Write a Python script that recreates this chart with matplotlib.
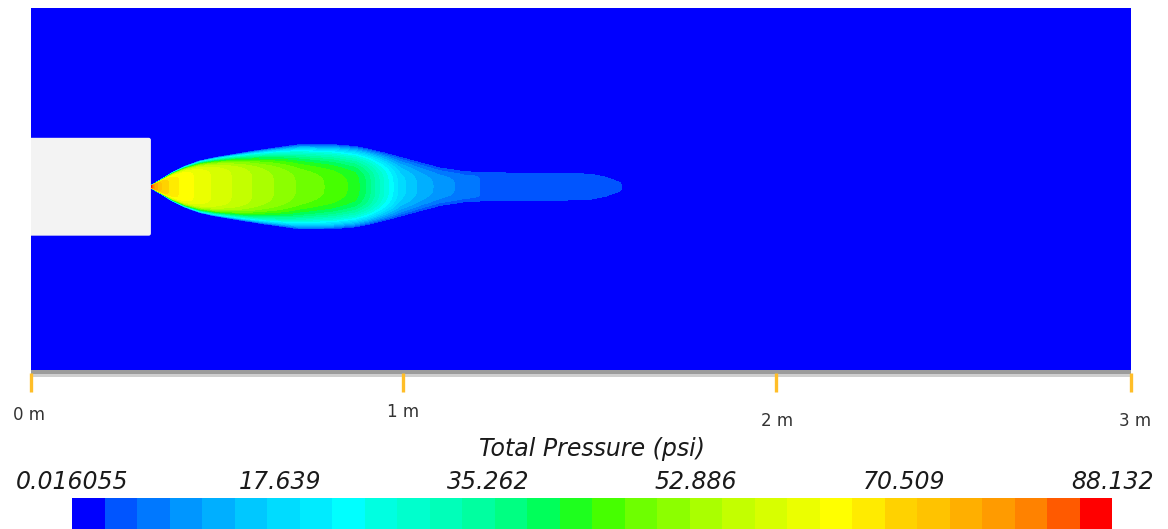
import numpy as np
import matplotlib
matplotlib.use("Agg")
import matplotlib.pyplot as plt
from matplotlib.patches import FancyBboxPatch

# ---------------- data ----------------
# plume stations along the axis (m), centreline total pressure (psi),
# outer half-width (m) and edge sharpness exponent
station_x = [0.327, 0.335, 0.352, 0.387, 0.420, 0.461, 0.502, 0.543, 0.625, 0.734,
             0.824, 0.884, 0.916, 0.965, 1.006, 1.061, 1.115, 1.184, 1.238, 1.334,
             1.443, 1.525, 1.565, 1.606, 1.620]
centre_p = [88, 78, 72, 67, 65, 62, 60, 58, 54, 49,
            46, 43, 38, 27, 18, 13, 10, 7, 5, 4.4,
            4.3, 4.2, 4.0, 3.6, 0]
half_width = [0.003, 0.008, 0.018, 0.040, 0.056, 0.071, 0.080, 0.087, 0.101, 0.117,
              0.117, 0.112, 0.106, 0.095, 0.085, 0.071, 0.057, 0.046, 0.042, 0.041,
              0.041, 0.038, 0.030, 0.014, 0.003]
edge_exp = [10, 10, 10, 10, 10, 9, 8, 7, 5, 3.5,
            3.2, 3, 3, 3, 3, 3, 3, 4, 8, 10,
            10, 10, 10, 10, 10]

domain_len = 3.0
domain_h = 0.989
axis_y = 0.5
body_len = 0.327
body_h = 0.267

p_min, p_max = 0.016055, 88.132
cbar_labels = ["0.016055", "17.639", "35.262", "52.886", "70.509", "88.132"]
band_colors = [
    (0, 0, 255), (0, 85, 255), (0, 120, 255), (0, 150, 255), (0, 175, 255),
    (0, 200, 255), (0, 220, 255), (0, 235, 255), (0, 255, 255), (0, 255, 225),
    (0, 255, 205), (0, 255, 185), (0, 255, 160), (0, 255, 130), (0, 255, 90),
    (30, 255, 30), (70, 255, 0), (110, 255, 0), (140, 255, 0), (170, 255, 0),
    (195, 255, 0), (215, 255, 0), (235, 255, 0), (255, 255, 0), (255, 235, 0),
    (255, 210, 0), (255, 195, 0), (255, 175, 0), (255, 155, 0), (255, 130, 0),
    (255, 90, 0), (255, 0, 0)]

scale_pos = [0.0, 1.0145, 2.032, 3.0]
scale_labels = ["0 m", "1 m", "2 m", "3 m"]

# ---------------- figure ----------------
W, H = 1168, 529
fig = plt.figure(figsize=(W / 100, H / 100), dpi=100)
fig.patch.set_facecolor("white")

def fx(px):
    return px / W

def fy(py):
    return 1 - py / H

# main field axes: px x 31..1131, y 7.5..370
ax = fig.add_axes([fx(31), fy(370), fx(1131) - fx(31), fy(7.5) - fy(370)])
colors = [tuple(c / 255 for c in rgb) for rgb in band_colors]
ax.set_facecolor(colors[0])

nx, ny = 1800, 700
xs = np.linspace(0, domain_len, nx)
ys = np.linspace(0, domain_h, ny)
X, Y = np.meshgrid(xs, ys)
pc = np.interp(xs, station_x, centre_p, left=0, right=0)
hw = np.interp(xs, station_x, half_width, left=1e-6, right=1e-6)
ne = np.interp(xs, station_x, edge_exp)
inside = (xs >= station_x[0]) & (xs <= station_x[-1])
r = np.abs(Y - axis_y) / hw[None, :]
shape = np.clip(1 - r ** ne[None, :], 0, 1)
P = pc[None, :] * shape * inside[None, :]
P = np.clip(P, p_min, p_max)

levels = np.linspace(p_min, p_max, 33)
cf = ax.contourf(X, Y, P, levels=levels, colors=colors)
ax.set_xlim(0, domain_len)
ax.set_ylim(0, domain_h)
ax.set_xticks([])
ax.set_yticks([])
for s in ax.spines.values():
    s.set_visible(False)

body = FancyBboxPatch((-0.01, axis_y - body_h / 2), body_len + 0.01, body_h,
                      boxstyle="round,pad=0,rounding_size=0.006",
                      facecolor="#f3f3f3", edgecolor="none", zorder=5)
ax.add_patch(body)

# scale bar axes: px y 370..395
sax = fig.add_axes([fx(31), fy(395), fx(1131) - fx(31), fy(370) - fy(395)])
sax.set_xlim(0, domain_len)
sax.set_ylim(0, 25)
sax.axis("off")
sax.axhspan(21, 25, xmin=0, xmax=1, color="#9c9c9c", lw=0)
sax.axhspan(18, 21, xmin=0, xmax=1, color="#cfcfcf", lw=0)
sax.vlines(scale_pos, 3, 22, colors="#ffbe28", lw=2.4, clip_on=False, zorder=3)

label_px = [(29, 415), (403, 412), (777, 421), (1135, 421)]
for (lx, ly), lab in zip(label_px, scale_labels):
    fig.text(fx(lx), fy(ly), lab, ha="center", va="center", fontsize=12,
             color="#333333", family="DejaVu Sans")

fig.text(fx(592), fy(449), "Total Pressure (psi)", ha="center", va="center",
         fontsize=17, style="italic", color="#1a1a1a", family="DejaVu Sans")

# colour bar: px x 72..1112, y 498..529
cax = fig.add_axes([fx(72), fy(529), fx(1112) - fx(72), fy(498) - fy(529)])
cb = fig.colorbar(cf, cax=cax, orientation="horizontal",
                  ticks=np.linspace(p_min, p_max, 6))
cb.outline.set_visible(False)
cax.xaxis.set_ticks_position("top")
cax.xaxis.set_label_position("top")
cax.set_xticklabels(cbar_labels)
cax.tick_params(axis="x", length=0, pad=3, labelsize=17, labelcolor="#1a1a1a")
for t in cax.get_xticklabels():
    t.set_fontstyle("italic")

fig.savefig("out.png", dpi=100)
